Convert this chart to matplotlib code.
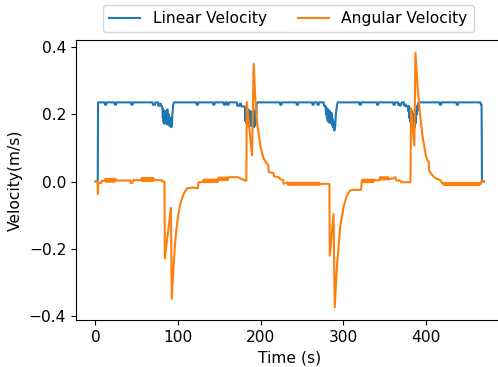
import matplotlib
matplotlib.use("Agg")
import matplotlib.pyplot as plt

# Linear velocity (time in s, value in m/s)
lin_t = [0, 2.8, 3.2, 11, 11.5, 13, 13.5, 23, 23.5, 25, 25.5, 43, 43.5, 45, 45.5,
         69, 69.5, 72, 72.5, 75.5, 76, 77, 77.5, 79, 79.5, 80.5,
         81, 81.5, 82, 82.5, 83, 83.5, 84, 84.5, 85, 85.5, 86, 86.5, 87, 87.5, 88, 88.5,
         89, 89.5, 90, 90.5, 91, 91.5, 92, 92.5, 93, 93.5, 94,
         95, 122, 122.5, 124, 124.5, 142, 142.5, 144, 144.5, 155, 155.5, 157, 157.5,
         159, 159.5, 161, 161.5, 171, 171.5, 174, 174.5, 176, 176.5, 180.5,
         181, 181.5, 182, 182.5, 183, 183.5, 184, 184.5, 185, 185.5, 186, 186.5, 187, 187.5,
         188, 188.5, 189, 189.5, 190, 190.5, 191, 191.5, 192, 192.5, 193, 193.5, 194, 194.5, 195,
         196, 223, 223.5, 225, 225.5, 243, 243.5, 245, 245.5, 262, 262.5, 264, 264.5,
         268, 268.5, 270, 270.5, 276, 276.5, 278,
         278.5, 279, 279.5, 280, 280.5, 281, 281.5, 282, 282.5, 283, 283.5, 284, 284.5, 285,
         285.5, 286, 286.5, 287, 287.5, 288, 288.5, 289, 289.5, 290, 290.5, 291, 291.5, 292,
         293, 319, 319.5, 321, 321.5, 340, 340.5, 342, 342.5, 360, 360.5, 362, 362.5,
         366, 366.5, 368, 368.5, 370, 370.5, 373, 373.5, 375, 375.5, 378,
         378.5, 379, 379.5, 380, 380.5, 381, 381.5, 382, 382.5, 383, 383.5, 384, 384.5, 385,
         385.5, 386, 386.5, 387, 387.5, 388, 388.5, 389, 389.5, 390,
         391, 416, 416.5, 418, 418.5, 436.5, 437, 438.5, 439, 465.5, 466, 467, 467.5, 470]
lin_v = [0, 0, 0.236, 0.236, 0.229, 0.229, 0.236, 0.236, 0.229, 0.229, 0.236, 0.236, 0.229, 0.229, 0.236,
         0.236, 0.229, 0.229, 0.236, 0.236, 0.226, 0.226, 0.232, 0.232, 0.225, 0.225,
         0.22, 0.19, 0.215, 0.175, 0.21, 0.172, 0.205, 0.18, 0.21, 0.175, 0.2, 0.17, 0.215, 0.178, 0.19, 0.17,
         0.2, 0.168, 0.185, 0.165, 0.19, 0.162, 0.175, 0.165, 0.2, 0.21, 0.228,
         0.236, 0.236, 0.229, 0.229, 0.236, 0.236, 0.229, 0.229, 0.236, 0.236, 0.229, 0.229, 0.236,
         0.236, 0.229, 0.229, 0.236, 0.236, 0.226, 0.226, 0.232, 0.232, 0.224, 0.224,
         0.21, 0.18, 0.22, 0.175, 0.21, 0.17, 0.2, 0.175, 0.215, 0.17, 0.2, 0.165, 0.21, 0.175,
         0.19, 0.17, 0.2, 0.165, 0.21, 0.175, 0.195, 0.162, 0.2, 0.165, 0.21, 0.17, 0.22, 0.2, 0.23,
         0.236, 0.236, 0.229, 0.229, 0.236, 0.236, 0.229, 0.229, 0.236, 0.236, 0.229, 0.229, 0.236,
         0.236, 0.229, 0.229, 0.236, 0.236, 0.226, 0.226,
         0.215, 0.2, 0.22, 0.19, 0.21, 0.18, 0.215, 0.185, 0.205, 0.175, 0.21, 0.18, 0.2, 0.175,
         0.205, 0.17, 0.19, 0.165, 0.18, 0.16, 0.175, 0.152, 0.17, 0.165, 0.19, 0.205, 0.215, 0.225,
         0.236, 0.236, 0.229, 0.229, 0.236, 0.236, 0.229, 0.229, 0.236, 0.236, 0.229, 0.229, 0.236,
         0.236, 0.228, 0.232, 0.226, 0.23, 0.236, 0.236, 0.226, 0.23, 0.224, 0.226,
         0.21, 0.225, 0.19, 0.22, 0.18, 0.215, 0.175, 0.2, 0.17, 0.21, 0.165, 0.195, 0.16, 0.2,
         0.157, 0.19, 0.165, 0.205, 0.175, 0.215, 0.2, 0.225, 0.21, 0.23,
         0.236, 0.236, 0.229, 0.229, 0.236, 0.236, 0.229, 0.229, 0.236, 0.236, 0.23, 0.23, 0, 0]

# Angular velocity (rad/s plotted on same axis)
ang_t = [0, 2.5, 3, 3.6, 7, 7.5, 11,
         12, 12.5, 13, 13.5, 14, 14.5, 15, 15.5, 16, 16.5, 17, 17.5, 18, 18.5, 19, 19.5, 20,
         20.5, 21, 21.5, 22, 22.5, 23, 23.5, 24,
         24.5, 42, 42.5, 45, 45.5, 55,
         56, 56.5, 57, 57.5, 58, 58.5, 59, 59.5, 60, 60.5, 61, 61.5, 62, 62.5, 63, 63.5, 64,
         64.5, 65, 65.5, 66, 66.5, 67, 67.5, 68, 68.5, 69, 69.5, 70,
         70.5, 80, 80.5, 83.5,
         84, 91.3, 92.3, 94.7, 96.5, 98.8, 100.5, 102.8, 104.8, 106.8, 109, 111, 118, 124, 124.5, 130,
         131, 132, 133, 134, 135, 136, 137, 138, 139, 140, 141, 142, 143, 144, 145, 146, 147, 148,
         149, 150, 151, 152, 153, 154, 155, 156, 157, 158, 159, 160, 161,
         161.5, 171, 174, 179, 182.5,
         183, 189.4, 191.4, 193.4, 195.4, 197.5, 199.5, 201.5, 203.5, 207.5, 209, 209.5, 215.5, 216,
         222, 223, 227, 227.5,
         232, 233, 234, 235, 236, 237, 238, 239, 240, 241, 242, 243, 244, 245, 246, 247, 248,
         249, 250, 251, 252, 253, 254, 255, 256, 257, 258, 259, 260, 261, 262, 263, 264, 265,
         266, 267, 268, 269, 270, 271, 272,
         282, 283, 283.4, 288, 289.4, 292, 296, 300, 304, 308, 310, 320.4, 321.5, 322,
         323, 324, 325, 326, 327, 328, 329, 330, 331, 332, 333, 334, 335, 336, 337,
         338, 343.5,
         344, 345, 346, 347, 348, 349, 350, 351, 352, 353, 354, 355, 356,
         360, 362.8, 364, 368, 370, 381,
         381.7, 385.7, 387, 389.5, 392.3, 395.5, 399.5, 401.5, 403, 403.5, 407.5, 411.5, 417.6, 419.6,
         421, 422, 423, 424, 425, 426, 427, 428, 429, 430, 431, 432, 433, 434, 435, 436, 437,
         438, 439, 440, 441, 442, 443, 444, 445, 446, 447, 448, 449, 450, 451, 452, 453, 454,
         455, 456, 457, 458, 459, 460, 461, 462, 463, 464, 465,
         466, 467, 469]
ang_v = [0, 0, -0.037, -0.004, -0.004, 0.002, 0.002,
         0.008, 0.0, 0.008, 0.0, 0.008, 0.0, 0.008, 0.0, 0.008, 0.0, 0.008, 0.0, 0.008, 0.0, 0.008, 0.0, 0.008,
         0.0, 0.008, 0.0, 0.008, 0.0, 0.008, 0.0, 0.008,
         0.003, 0.003, -0.004, -0.004, 0.004, 0.004,
         0.01, 0.002, 0.01, 0.002, 0.01, 0.002, 0.01, 0.002, 0.01, 0.002, 0.01, 0.002, 0.01, 0.002, 0.01, 0.002, 0.01,
         0.002, 0.01, 0.002, 0.01, 0.002, 0.01, 0.002, 0.01, 0.002, 0.01, 0.002, 0.01,
         0.004, 0.004, 0.0, 0.0,
         -0.23, -0.078, -0.35, -0.245, -0.18, -0.125, -0.095, -0.066, -0.05, -0.037, -0.028, -0.02, -0.018, -0.02, -0.003, -0.001,
         0.006, -0.002, 0.006, -0.002, 0.006, -0.002, 0.006, -0.002, 0.006, -0.002, 0.006, -0.002, 0.006, -0.002, 0.006, -0.002, 0.006, -0.002,
         0.012, 0.004, 0.012, 0.004, 0.012, 0.004, 0.012, 0.004, 0.012, 0.004, 0.012, 0.004, 0.012,
         0.013, 0.013, 0.011, 0.005, 0.002,
         0.237, 0.078, 0.351, 0.247, 0.177, 0.14, 0.107, 0.085, 0.068, 0.053, 0.05, 0.028, 0.025, 0.016,
         0.012, 0.008, 0.004, -0.007,
         -0.003, -0.01, -0.003, -0.01, -0.003, -0.01, -0.003, -0.01, -0.003, -0.01, -0.003, -0.01, -0.003, -0.01, -0.003, -0.01, -0.003,
         -0.01, -0.003, -0.01, -0.003, -0.01, -0.003, -0.01, -0.003, -0.01, -0.003, -0.01, -0.003, -0.01, -0.003, -0.01, -0.003, -0.01,
         -0.003, -0.01, -0.003, -0.01, -0.003, -0.01, -0.007,
         -0.007, -0.008, -0.221, -0.097, -0.375, -0.256, -0.136, -0.077, -0.042, -0.027, -0.025, -0.025, -0.022, -0.002,
         0.006, -0.002, 0.006, -0.002, 0.006, -0.002, 0.006, -0.002, 0.006, -0.002, 0.006, -0.002, 0.006, -0.002, 0.006,
         0.004, 0.004,
         0.013, 0.006, 0.013, 0.006, 0.013, 0.006, 0.013, 0.006, 0.013, 0.006, 0.013, 0.006, 0.008,
         0.009, 0.013, 0.003, 0.003, -0.002, -0.002,
         0.217, 0.107, 0.384, 0.287, 0.207, 0.137, 0.078, 0.063, 0.06, 0.033, 0.018, 0.01, 0.003, -0.007,
         -0.004, -0.011, -0.004, -0.011, -0.004, -0.011, -0.004, -0.011, -0.004, -0.011, -0.004, -0.011, -0.004, -0.011, -0.004, -0.011, -0.004,
         -0.011, -0.004, -0.011, -0.004, -0.011, -0.004, -0.011, -0.004, -0.011, -0.004, -0.011, -0.004, -0.011, -0.004, -0.011, -0.004, -0.011,
         -0.004, -0.011, -0.004, -0.011, -0.004, -0.011, -0.004, -0.011, -0.004, -0.011, -0.004,
         -0.007, 0.003, 0.002]

plt.rcParams['font.size'] = 11.2

fig, ax = plt.subplots(figsize=(4.98, 3.67), dpi=100)
fig.subplots_adjust(left=0.1526, right=1.011, bottom=0.128, top=0.891)

ax.plot(lin_t, lin_v, label="Linear Velocity")
ax.plot(ang_t, ang_v, label="Angular Velocity")

ax.set_xlabel("Time (s)")
ax.set_ylabel("Velocity(m/s)")
ax.set_yticks([-0.4, -0.2, 0.0, 0.2, 0.4])

ax.legend(loc="lower center", bbox_to_anchor=(0.497, 1.0), ncol=2)

fig.savefig("out.png", dpi=100)
